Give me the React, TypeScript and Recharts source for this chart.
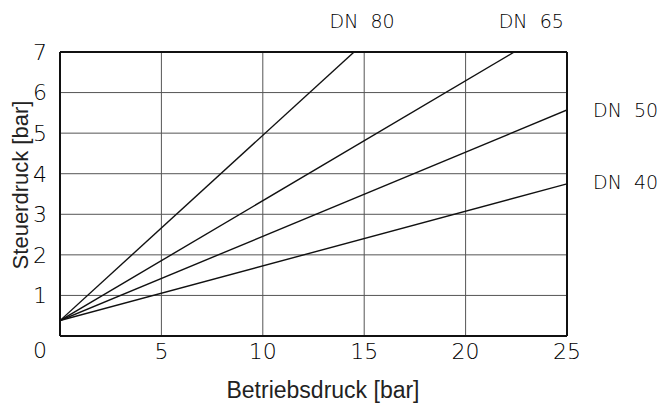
import {
  CartesianGrid,
  Label,
  LabelList,
  Line,
  LineChart,
  ReferenceDot,
  ReferenceLine,
  XAxis,
  YAxis,
} from 'recharts'

// Betriebsdruck [bar] -> Steuerdruck [bar], straight lines from a common start point
const dn80 = [
  { x: 0, y: 0.38 },
  { x: 14.5, y: 7 },
]
const dn65 = [
  { x: 0, y: 0.38 },
  { x: 22.4, y: 7 },
]
const dn50 = [
  { x: 0, y: 0.38 },
  { x: 25, y: 5.57 },
]
const dn40 = [
  { x: 0, y: 0.38 },
  { x: 25, y: 3.75 },
]

const xTicks = [5, 10, 15, 20, 25]
const yTicks = [1, 2, 3, 4, 5, 6, 7]

const isoFont = "'DejaVu Sans', sans-serif"
const labelFont = "'Liberation Sans', Arial, sans-serif"

function endLabel(text: string, dx: number, dy: number, anchor: 'start' | 'middle') {
  return (props: any) => {
    if (props.index !== 1) return null
    return (
      <text
        x={Number(props.x) + dx}
        y={Number(props.y) + dy}
        textAnchor={anchor}
        fontFamily={isoFont}
        fontWeight={200}
        fontSize={19}
        fill="#000"
        style={{ whiteSpace: 'pre' }}
      >
        {text}
      </text>
    )
  }
}

export default function App(): React.ReactElement {
  const tick = { fontFamily: isoFont, fontWeight: 200, fontSize: 22, fill: '#000' }
  return (
    <div style={{ position: 'absolute', left: 0, top: 0, background: '#fff' }}>
      <LineChart width={668} height={405} margin={{ top: 52, right: 101, bottom: 0, left: 0 }}>
        <CartesianGrid stroke="#555" strokeWidth={1} />
        <XAxis
          type="number"
          dataKey="x"
          domain={[0, 25]}
          ticks={xTicks}
          height={69}
          tickSize={0}
          tickMargin={7}
          tickLine={false}
          axisLine={{ stroke: '#111', strokeWidth: 2 }}
          tick={tick}
          allowDataOverflow
        >
          <Label
            position="insideBottom"
            content={() => (
              <text
                x={323}
                y={398}
                textAnchor="middle"
                fontFamily={labelFont}
                fontSize={23}
                fill="#222"
              >
                Betriebsdruck [bar]
              </text>
            )}
          />
        </XAxis>
        <YAxis
          type="number"
          domain={[0, 7]}
          ticks={yTicks}
          width={60}
          tickSize={0}
          tickMargin={13}
          tickLine={false}
          axisLine={{ stroke: '#111', strokeWidth: 2 }}
          tick={tick}
          allowDataOverflow
        >
          <Label
            position="insideLeft"
            content={() => (
              <text
                x={20}
                y={185}
                transform="rotate(-90 20 185)"
                textAnchor="middle"
                dominantBaseline="central"
                fontFamily={labelFont}
                fontSize={22}
                fill="#222"
              >
                Steuerdruck [bar]
              </text>
            )}
          />
        </YAxis>
        <ReferenceLine y={7} stroke="#111" strokeWidth={2} />
        <ReferenceLine x={25} stroke="#111" strokeWidth={2} />
        <ReferenceDot
          x={0}
          y={0}
          r={0}
          stroke="none"
          fill="none"
          label={(props: any) => (
            <text
              x={Number(props.viewBox?.x ?? 60) - 13}
              y={Number(props.viewBox?.y ?? 336) + 22}
              textAnchor="end"
              fontFamily={isoFont}
              fontWeight={200}
              fontSize={22}
              fill="#000"
            >
              0
            </text>
          )}
        />
        <Line data={dn80} dataKey="y" stroke="#111" strokeWidth={1.4} dot={false} isAnimationActive={false}>
          <LabelList content={endLabel('DN  80', 8, -24, 'middle')} />
        </Line>
        <Line data={dn65} dataKey="y" stroke="#111" strokeWidth={1.4} dot={false} isAnimationActive={false}>
          <LabelList content={endLabel('DN  65', 17, -24, 'middle')} />
        </Line>
        <Line data={dn50} dataKey="y" stroke="#111" strokeWidth={1.4} dot={false} isAnimationActive={false}>
          <LabelList content={endLabel('DN  50', 26, 7, 'start')} />
        </Line>
        <Line data={dn40} dataKey="y" stroke="#111" strokeWidth={1.4} dot={false} isAnimationActive={false}>
          <LabelList content={endLabel('DN  40', 26, 5, 'start')} />
        </Line>
      </LineChart>
    </div>
  )
}
